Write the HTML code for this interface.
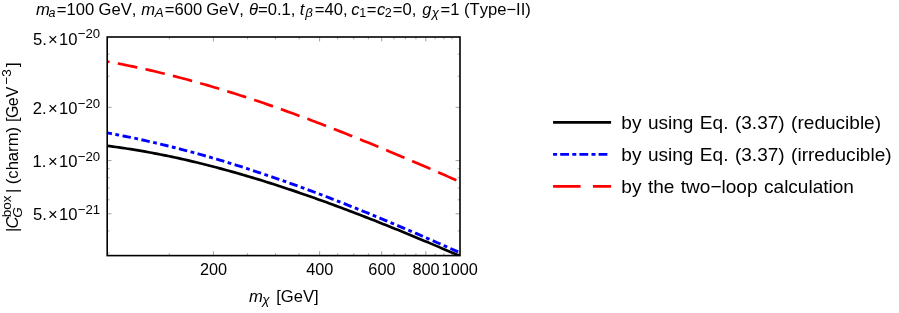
<!DOCTYPE html>
<html><head><meta charset="utf-8"><title>plot</title>
<style>
html,body{margin:0;padding:0;background:#fff;}
body{width:899px;height:313px;overflow:hidden;}
svg{display:block;will-change:transform;}
text{font-family:"Liberation Sans",sans-serif;fill:#000;font-kerning:none;white-space:pre;}
.i{font-style:italic;}
</style></head><body>
<svg width="899" height="313" viewBox="0 0 899 313">
<rect x="0" y="0" width="899" height="313" fill="#fff"/>
<defs><clipPath id="cp"><rect x="107.2" y="37.0" width="352.8" height="218.6"/></clipPath></defs>
<g clip-path="url(#cp)" fill="none">
<path d="M107.00,145.80 L109.97,146.18 L112.93,146.57 L115.90,146.97 L118.87,147.39 L121.83,147.81 L124.80,148.25 L127.76,148.71 L130.73,149.17 L133.70,149.65 L136.66,150.14 L139.63,150.64 L142.60,151.15 L145.56,151.67 L148.53,152.21 L151.50,152.76 L154.46,153.32 L157.43,153.89 L160.39,154.47 L163.36,155.06 L166.33,155.66 L169.29,156.28 L172.26,156.90 L175.23,157.54 L178.19,158.19 L181.16,158.85 L184.13,159.51 L187.09,160.19 L190.06,160.88 L193.03,161.58 L195.99,162.29 L198.96,163.01 L201.92,163.74 L204.89,164.48 L207.86,165.23 L210.82,165.99 L213.79,166.76 L216.76,167.54 L219.72,168.33 L222.69,169.13 L225.66,169.93 L228.62,170.75 L231.59,171.58 L234.55,172.41 L237.52,173.26 L240.49,174.11 L243.45,174.97 L246.42,175.84 L249.39,176.72 L252.35,177.61 L255.32,178.51 L258.29,179.41 L261.25,180.33 L264.22,181.25 L267.18,182.18 L270.15,183.11 L273.12,184.06 L276.08,185.01 L279.05,185.98 L282.02,186.94 L284.98,187.92 L287.95,188.91 L290.92,189.90 L293.88,190.90 L296.85,191.90 L299.82,192.92 L302.78,193.94 L305.75,194.97 L308.71,196.00 L311.68,197.04 L314.65,198.09 L317.61,199.15 L320.58,200.21 L323.55,201.28 L326.51,202.35 L329.48,203.44 L332.45,204.52 L335.41,205.62 L338.38,206.72 L341.34,207.82 L344.31,208.93 L347.28,210.05 L350.24,211.18 L353.21,212.30 L356.18,213.44 L359.14,214.58 L362.11,215.73 L365.08,216.88 L368.04,218.03 L371.01,219.19 L373.97,220.36 L376.94,221.53 L379.91,222.71 L382.87,223.89 L385.84,225.07 L388.81,226.27 L391.77,227.46 L394.74,228.66 L397.71,229.86 L400.67,231.07 L403.64,232.28 L406.61,233.50 L409.57,234.72 L412.54,235.95 L415.50,237.17 L418.47,238.41 L421.44,239.64 L424.40,240.88 L427.37,242.12 L430.34,243.37 L433.30,244.62 L436.27,245.87 L439.24,247.13 L442.20,248.39 L445.17,249.65 L448.13,250.91 L451.10,252.18 L454.07,253.45 L457.03,254.73 L460.00,256.00" stroke="#000" stroke-width="2.7"/>
<path d="M107.00,132.88 L109.97,133.42 L112.93,133.96 L115.90,134.52 L118.87,135.09 L121.83,135.66 L124.80,136.25 L127.76,136.85 L130.73,137.45 L133.70,138.07 L136.66,138.70 L139.63,139.34 L142.60,139.99 L145.56,140.64 L148.53,141.31 L151.50,141.99 L154.46,142.67 L157.43,143.37 L160.39,144.07 L163.36,144.79 L166.33,145.51 L169.29,146.25 L172.26,146.99 L175.23,147.74 L178.19,148.51 L181.16,149.28 L184.13,150.06 L187.09,150.84 L190.06,151.64 L193.03,152.45 L195.99,153.26 L198.96,154.09 L201.92,154.92 L204.89,155.76 L207.86,156.61 L210.82,157.47 L213.79,158.33 L216.76,159.21 L219.72,160.09 L222.69,160.98 L225.66,161.88 L228.62,162.78 L231.59,163.70 L234.55,164.62 L237.52,165.55 L240.49,166.49 L243.45,167.43 L246.42,168.39 L249.39,169.35 L252.35,170.32 L255.32,171.29 L258.29,172.28 L261.25,173.27 L264.22,174.26 L267.18,175.27 L270.15,176.28 L273.12,177.30 L276.08,178.32 L279.05,179.36 L282.02,180.40 L284.98,181.44 L287.95,182.50 L290.92,183.56 L293.88,184.62 L296.85,185.69 L299.82,186.77 L302.78,187.86 L305.75,188.95 L308.71,190.05 L311.68,191.15 L314.65,192.26 L317.61,193.38 L320.58,194.50 L323.55,195.63 L326.51,196.76 L329.48,197.90 L332.45,199.05 L335.41,200.20 L338.38,201.36 L341.34,202.52 L344.31,203.69 L347.28,204.86 L350.24,206.04 L353.21,207.22 L356.18,208.41 L359.14,209.60 L362.11,210.80 L365.08,212.01 L368.04,213.21 L371.01,214.43 L373.97,215.65 L376.94,216.87 L379.91,218.10 L382.87,219.33 L385.84,220.57 L388.81,221.81 L391.77,223.05 L394.74,224.30 L397.71,225.56 L400.67,226.82 L403.64,228.08 L406.61,229.34 L409.57,230.61 L412.54,231.89 L415.50,233.17 L418.47,234.45 L421.44,235.74 L424.40,237.02 L427.37,238.32 L430.34,239.61 L433.30,240.91 L436.27,242.22 L439.24,243.52 L442.20,244.83 L445.17,246.15 L448.13,247.46 L451.10,248.78 L454.07,250.11 L457.03,251.43 L460.00,252.76" stroke="#0000ff" stroke-width="2.9" stroke-dasharray="8.5 3.5 3.8 3.5" stroke-dashoffset="3.5"/>
<path d="M107.00,61.50 L109.97,62.03 L112.93,62.58 L115.90,63.13 L118.87,63.69 L121.83,64.27 L124.80,64.86 L127.76,65.45 L130.73,66.06 L133.70,66.68 L136.66,67.31 L139.63,67.95 L142.60,68.60 L145.56,69.26 L148.53,69.94 L151.50,70.62 L154.46,71.31 L157.43,72.01 L160.39,72.72 L163.36,73.45 L166.33,74.18 L169.29,74.92 L172.26,75.67 L175.23,76.43 L178.19,77.20 L181.16,77.98 L184.13,78.77 L187.09,79.57 L190.06,80.38 L193.03,81.20 L195.99,82.02 L198.96,82.86 L201.92,83.70 L204.89,84.55 L207.86,85.42 L210.82,86.29 L213.79,87.17 L216.76,88.05 L219.72,88.95 L222.69,89.85 L225.66,90.76 L228.62,91.68 L231.59,92.61 L234.55,93.55 L237.52,94.49 L240.49,95.44 L243.45,96.40 L246.42,97.37 L249.39,98.35 L252.35,99.33 L255.32,100.32 L258.29,101.32 L261.25,102.32 L264.22,103.33 L267.18,104.35 L270.15,105.38 L273.12,106.41 L276.08,107.45 L279.05,108.49 L282.02,109.55 L284.98,110.61 L287.95,111.67 L290.92,112.74 L293.88,113.82 L296.85,114.91 L299.82,116.00 L302.78,117.09 L305.75,118.20 L308.71,119.31 L311.68,120.42 L314.65,121.54 L317.61,122.67 L320.58,123.80 L323.55,124.94 L326.51,126.08 L329.48,127.23 L332.45,128.38 L335.41,129.54 L338.38,130.71 L341.34,131.87 L344.31,133.05 L347.28,134.23 L350.24,135.41 L353.21,136.60 L356.18,137.79 L359.14,138.99 L362.11,140.19 L365.08,141.40 L368.04,142.61 L371.01,143.82 L373.97,145.04 L376.94,146.26 L379.91,147.49 L382.87,148.72 L385.84,149.96 L388.81,151.20 L391.77,152.44 L394.74,153.68 L397.71,154.93 L400.67,156.18 L403.64,157.44 L406.61,158.70 L409.57,159.96 L412.54,161.23 L415.50,162.49 L418.47,163.77 L421.44,165.04 L424.40,166.32 L427.37,167.60 L430.34,168.88 L433.30,170.16 L436.27,171.45 L439.24,172.74 L442.20,174.03 L445.17,175.32 L448.13,176.62 L451.10,177.92 L454.07,179.22 L457.03,180.52 L460.00,181.82" stroke="#ff0000" stroke-width="2.7" stroke-dasharray="19.9 8.35" stroke-dashoffset="17.3"/>
</g>
<g stroke="#555" stroke-width="0.55">
<line x1="213.40" y1="255.6" x2="213.40" y2="251.2"/>
<line x1="213.40" y1="37.0" x2="213.40" y2="41.4"/>
<line x1="319.61" y1="255.6" x2="319.61" y2="251.2"/>
<line x1="319.61" y1="37.0" x2="319.61" y2="41.4"/>
<line x1="381.73" y1="255.6" x2="381.73" y2="251.2"/>
<line x1="381.73" y1="37.0" x2="381.73" y2="41.4"/>
<line x1="425.81" y1="255.6" x2="425.81" y2="251.2"/>
<line x1="425.81" y1="37.0" x2="425.81" y2="41.4"/>
<line x1="169.32" y1="255.6" x2="169.32" y2="253.29999999999998"/>
<line x1="169.32" y1="37.0" x2="169.32" y2="39.3"/>
<line x1="247.59" y1="255.6" x2="247.59" y2="253.29999999999998"/>
<line x1="247.59" y1="37.0" x2="247.59" y2="39.3"/>
<line x1="275.53" y1="255.6" x2="275.53" y2="253.29999999999998"/>
<line x1="275.53" y1="37.0" x2="275.53" y2="39.3"/>
<line x1="299.15" y1="255.6" x2="299.15" y2="253.29999999999998"/>
<line x1="299.15" y1="37.0" x2="299.15" y2="39.3"/>
<line x1="337.65" y1="255.6" x2="337.65" y2="253.29999999999998"/>
<line x1="337.65" y1="37.0" x2="337.65" y2="39.3"/>
<line x1="353.80" y1="255.6" x2="353.80" y2="253.29999999999998"/>
<line x1="353.80" y1="37.0" x2="353.80" y2="39.3"/>
<line x1="368.40" y1="255.6" x2="368.40" y2="253.29999999999998"/>
<line x1="368.40" y1="37.0" x2="368.40" y2="39.3"/>
<line x1="394.00" y1="255.6" x2="394.00" y2="253.29999999999998"/>
<line x1="394.00" y1="37.0" x2="394.00" y2="39.3"/>
<line x1="405.35" y1="255.6" x2="405.35" y2="253.29999999999998"/>
<line x1="405.35" y1="37.0" x2="405.35" y2="39.3"/>
<line x1="415.92" y1="255.6" x2="415.92" y2="253.29999999999998"/>
<line x1="415.92" y1="37.0" x2="415.92" y2="39.3"/>
<line x1="435.10" y1="255.6" x2="435.10" y2="253.29999999999998"/>
<line x1="435.10" y1="37.0" x2="435.10" y2="39.3"/>
<line x1="443.86" y1="255.6" x2="443.86" y2="253.29999999999998"/>
<line x1="443.86" y1="37.0" x2="443.86" y2="39.3"/>
<line x1="452.14" y1="255.6" x2="452.14" y2="253.29999999999998"/>
<line x1="452.14" y1="37.0" x2="452.14" y2="39.3"/>
<line x1="107.2" y1="107.36" x2="111.60000000000001" y2="107.36"/>
<line x1="460.0" y1="107.36" x2="455.6" y2="107.36"/>
<line x1="107.2" y1="160.58" x2="111.60000000000001" y2="160.58"/>
<line x1="460.0" y1="160.58" x2="455.6" y2="160.58"/>
<line x1="107.2" y1="213.80" x2="111.60000000000001" y2="213.80"/>
<line x1="460.0" y1="213.80" x2="455.6" y2="213.80"/>
<line x1="107.2" y1="54.13" x2="109.5" y2="54.13"/>
<line x1="460.0" y1="54.13" x2="457.7" y2="54.13"/>
<line x1="107.2" y1="76.22" x2="109.5" y2="76.22"/>
<line x1="460.0" y1="76.22" x2="457.7" y2="76.22"/>
<line x1="107.2" y1="168.67" x2="109.5" y2="168.67"/>
<line x1="460.0" y1="168.67" x2="457.7" y2="168.67"/>
<line x1="107.2" y1="177.71" x2="109.5" y2="177.71"/>
<line x1="460.0" y1="177.71" x2="457.7" y2="177.71"/>
<line x1="107.2" y1="187.96" x2="109.5" y2="187.96"/>
<line x1="460.0" y1="187.96" x2="457.7" y2="187.96"/>
<line x1="107.2" y1="199.80" x2="109.5" y2="199.80"/>
<line x1="460.0" y1="199.80" x2="457.7" y2="199.80"/>
<line x1="107.2" y1="230.93" x2="109.5" y2="230.93"/>
<line x1="460.0" y1="230.93" x2="457.7" y2="230.93"/>
<line x1="107.2" y1="253.02" x2="109.5" y2="253.02"/>
<line x1="460.0" y1="253.02" x2="457.7" y2="253.02"/>
</g>
<rect x="107.2" y="37.0" width="352.8" height="218.60" fill="none" stroke="#000" stroke-width="1.6"/>
<!-- title -->
<text x="35.92" y="14.80" font-size="16.6" class="i">m</text>
<text x="48.62" y="17.40" font-size="12.5" class="i">a</text>
<text x="56.79" y="14.80" font-size="16.6">=100</text>
<text x="98.57" y="14.80" font-size="16.6">GeV,</text>
<text x="141.22" y="14.80" font-size="16.6" class="i">m</text>
<text x="154.66" y="17.40" font-size="13.4" class="i">A</text>
<text x="164.79" y="14.80" font-size="16.6">=600</text>
<text x="206.17" y="14.80" font-size="16.6">GeV,</text>
<text x="248.98" y="14.80" font-size="16.6" class="i">θ</text>
<text x="258.09" y="14.80" font-size="16.6">=0.1,</text>
<text x="299.75" y="14.80" font-size="16.6" class="i">t</text>
<text x="305.22" y="17.40" font-size="13.2" class="i">β</text>
<text x="314.79" y="14.80" font-size="16.6">=40,</text>
<text x="351.36" y="14.80" font-size="16.6" class="i">c</text>
<text x="359.25" y="17.40" font-size="12.5">1</text>
<text x="366.79" y="14.80" font-size="16.6">=</text>
<text x="377.06" y="14.80" font-size="16.6" class="i">c</text>
<text x="384.67" y="17.40" font-size="12.5">2</text>
<text x="392.79" y="14.80" font-size="16.6">=0,</text>
<text x="422.27" y="14.80" font-size="16.6" class="i">g</text>
<text x="431.86" y="17.40" font-size="13.2" class="i">χ</text>
<text x="440.59" y="14.80" font-size="16.6">=1</text>
<text x="463.97" y="14.80" font-size="16.6">(Type−II)</text>
<!-- y tick labels -->
<text x="33.04" y="44.50" font-size="16.6">5.</text>
<text x="47.95" y="44.50" font-size="16.6">×</text>
<text x="59.04" y="44.50" font-size="16.6">10</text>
<text x="77.75" y="38.40" font-size="13.2">−20</text>
<text x="32.87" y="113.96" font-size="16.6">2.</text>
<text x="47.95" y="113.96" font-size="16.6">×</text>
<text x="59.04" y="113.96" font-size="16.6">10</text>
<text x="77.75" y="107.86" font-size="13.2">−20</text>
<text x="32.44" y="167.18" font-size="16.6">1.</text>
<text x="47.95" y="167.18" font-size="16.6">×</text>
<text x="59.04" y="167.18" font-size="16.6">10</text>
<text x="77.75" y="161.08" font-size="13.2">−20</text>
<text x="33.04" y="220.40" font-size="16.6">5.</text>
<text x="47.95" y="220.40" font-size="16.6">×</text>
<text x="59.04" y="220.40" font-size="16.6">10</text>
<text x="77.75" y="214.30" font-size="13.2">−21</text>
<!-- x tick labels -->
<text x="213.60" y="274.7" text-anchor="middle" font-size="16.3">200</text>
<text x="319.81" y="274.7" text-anchor="middle" font-size="16.3">400</text>
<text x="381.93" y="274.7" text-anchor="middle" font-size="16.3">600</text>
<text x="426.01" y="274.7" text-anchor="middle" font-size="16.3">800</text>
<text x="459.7" y="274.7" text-anchor="middle" font-size="16.3">1000</text>
<!-- x label -->
<text x="248.92" y="301.50" font-size="16.6" class="i">m</text>
<text x="262.27" y="304.10" font-size="13.4" class="i">χ</text>
<text x="276.22" y="301.50" font-size="16.6">[GeV]</text>
<!-- y label -->
<text transform="translate(17.80,232.00) rotate(-90)" font-size="16.6">|</text>
<text transform="translate(17.80,228.60) rotate(-90)" font-size="16.6" class="i">C</text>
<text transform="translate(22.20,217.70) rotate(-90)" font-size="13.5" class="i">G</text>
<text transform="translate(10.70,217.30) rotate(-90)" font-size="13.5">box</text>
<text transform="translate(17.80,193.10) rotate(-90)" font-size="16.6">| (charm)</text>
<text transform="translate(17.80,121.90) rotate(-90)" font-size="16.6">[</text>
<text transform="translate(17.80,118.00) rotate(-90)" font-size="16.0">G</text>
<text transform="translate(17.80,106.20) rotate(-90)" font-size="16.0">e</text>
<text transform="translate(17.80,97.20) rotate(-90)" font-size="16.0">V</text>
<text transform="translate(11.00,84.60) rotate(-90)" font-size="13.5">−3</text>
<text transform="translate(17.80,67.00) rotate(-90)" font-size="16.6">]</text>
<!-- legend -->
<g fill="none">
<line x1="553.1" y1="122.3" x2="611.1" y2="122.3" stroke="#000" stroke-width="2.7"/>
<line x1="553.1" y1="154.4" x2="608" y2="154.4" stroke="#0000ff" stroke-width="2.9" stroke-dasharray="4 3.1 8.8 3.3"/>
<line x1="553.1" y1="186.4" x2="611.1" y2="186.4" stroke="#ff0000" stroke-width="2.7" stroke-dasharray="27.5 12.4"/>
</g>
<g font-size="19.05" style="word-spacing:1.2px">
<text x="621.3" y="128.7">by using Eq. (3.37) (reducible)</text>
<text x="621.3" y="160.5">by using Eq. (3.37) (irreducible)</text>
<text x="621.3" y="192.6">by the two−loop calculation</text>
</g>
</svg>
</body></html>
